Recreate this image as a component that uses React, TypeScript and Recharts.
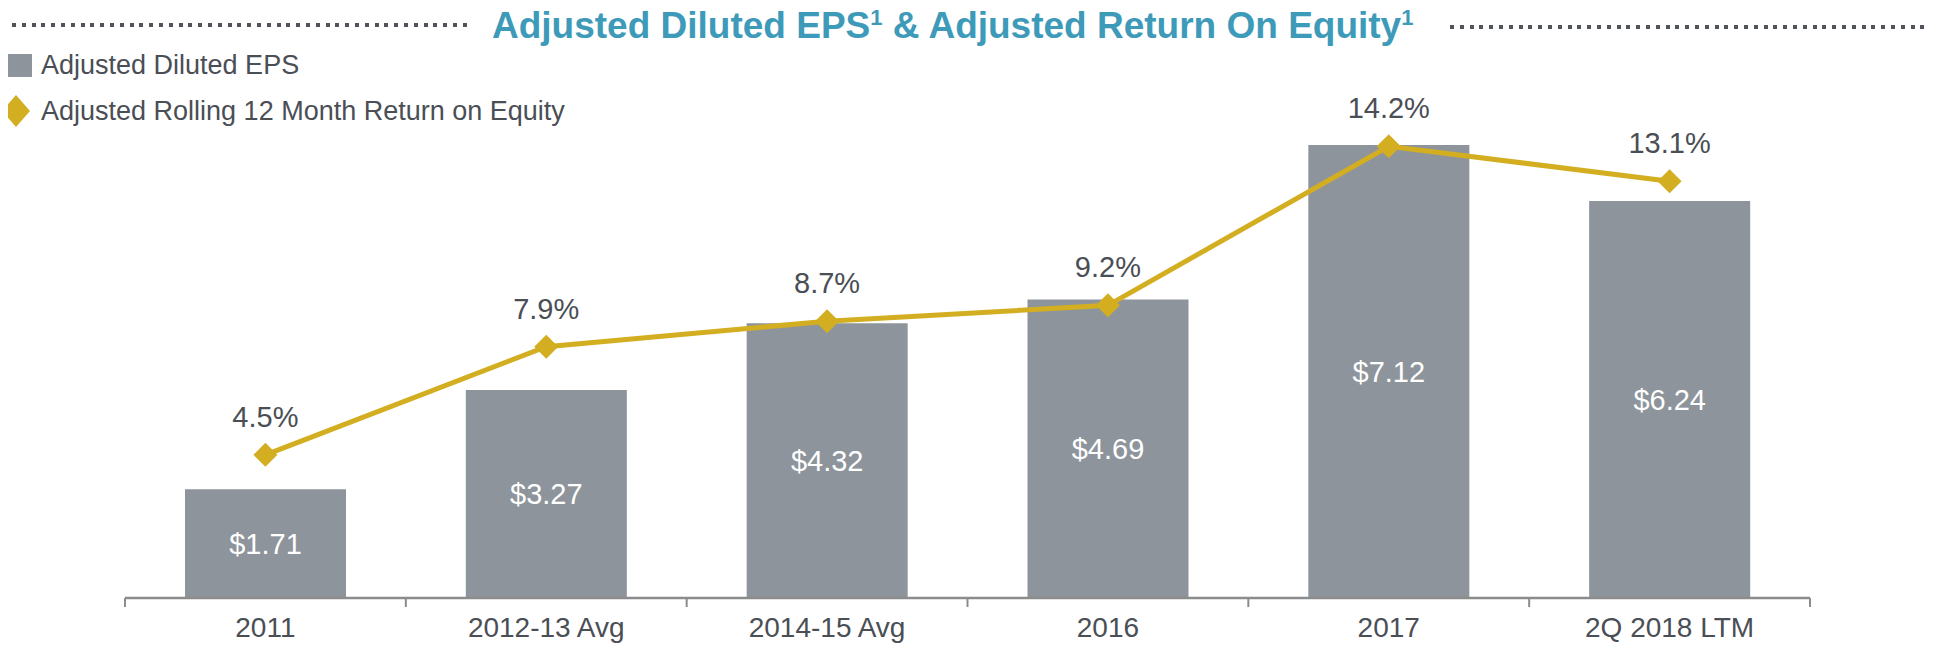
import React from "react";
import { ComposedChart, Bar, Line, XAxis, YAxis, LabelList } from "recharts";

const categories = ["2011", "2012-13 Avg", "2014-15 Avg", "2016", "2017", "2Q 2018 LTM"];
const epsValues = [1.71, 3.27, 4.32, 4.69, 7.12, 6.24];
const roeValues = [4.5, 7.9, 8.7, 9.2, 14.2, 13.1];

const data = categories.map((name, i) => ({ name, eps: epsValues[i], roe: roeValues[i] }));

const FONT = '"Liberation Sans", Arial, Helvetica, sans-serif';
const BAR = "#8e949b";
const GOLD = "#d3ae20";
const TEXT = "#4a4e55";
const TEAL = "#3d9ab9";

const dots = (w: number) => ({
  width: w,
  height: 4,
  backgroundImage: "repeating-linear-gradient(to right, #50545a 0 4px, transparent 4px 9.8px)",
});

function Diamond(props: any) {
  const { cx, cy } = props;
  if (cx == null || cy == null) return null;
  return <polygon points={`${cx},${cy - 12} ${cx + 12},${cy} ${cx},${cy + 12} ${cx - 12},${cy}`} fill={GOLD} />;
}

// labels sit under the band centre, tick marks on the band edges
function Tick(props: any) {
  const { x, y, payload, index } = props;
  const half = payload?.offset ?? 140.4;
  return (
    <g>
      <line x1={x - half} y1={y} x2={x - half} y2={y + 9} stroke="#8c8c8c" strokeWidth={2} />
      {index === categories.length - 1 && (
        <line x1={x + half} y1={y} x2={x + half} y2={y + 9} stroke="#8c8c8c" strokeWidth={2} />
      )}
      <text x={x} y={y + 39} textAnchor="middle" fill={TEXT} fontSize={28} fontFamily={FONT}>
        {payload.value}
      </text>
    </g>
  );
}

export default function App() {
  return (
    <div style={{ position: "relative", width: 1919, height: 637, fontFamily: FONT }}>
      <div style={{ position: "absolute", left: 4, top: 15, ...dots(456) }} />
      <div
        style={{
          position: "absolute", left: 484, top: -3, whiteSpace: "nowrap",
          color: TEAL, fontWeight: "bold", fontSize: 37, lineHeight: "42px",
        }}
      >
        Adjusted Diluted EPS<sup style={{ fontSize: 22, lineHeight: 0 }}>1</sup> &amp; Adjusted Return On Equity<sup style={{ fontSize: 22, lineHeight: 0 }}>1</sup>
      </div>
      <div style={{ position: "absolute", left: 1442, top: 17, ...dots(478) }} />

      {/* legend */}
      <div style={{ position: "absolute", left: 0, top: 45, fontSize: 27, color: TEXT }}>
        <div style={{ display: "flex", alignItems: "center", height: 24 }}>
          <div style={{ width: 24, height: 23, flexShrink: 0, background: BAR, marginRight: 9 }} />
          <span style={{ whiteSpace: "nowrap" }}>Adjusted Diluted EPS</span>
        </div>
        <div style={{ display: "flex", alignItems: "center", height: 40, marginTop: 14 }}>
          <svg width={33} height={40} style={{ flexShrink: 0, marginLeft: -9, marginRight: 9 }}>
            <polygon points="17,4 31,20 17,36 3,20" fill={GOLD} />
          </svg>
          <span style={{ whiteSpace: "nowrap" }}>Adjusted Rolling 12 Month Return on Equity</span>
        </div>
      </div>

      <div style={{ position: "absolute", left: 0, top: 0 }}>
        <ComposedChart width={1919} height={637} data={data} margin={{ top: 81, right: 117, left: 117, bottom: 0 }}>
          <XAxis
            dataKey="name"
            height={47}
            axisLine={{ stroke: "#8c8c8c", strokeWidth: 2.5 }}
            tickLine={false}
            tickSize={0}
            tickMargin={0}
            tick={<Tick />}
            interval={0}
          />
          <YAxis yAxisId="eps" hide domain={[0, 8]} />
          <YAxis yAxisId="roe" hide domain={[0, 16]} orientation="right" />
          <Bar yAxisId="eps" dataKey="eps" fill={BAR} barSize={161} isAnimationActive={false}>
            <LabelList
              dataKey="eps"
              position="center"
              fill="#ffffff"
              fontSize={29}
              fontFamily={FONT}
              formatter={(v: any) => `$${Number(v).toFixed(2)}`}
            />
          </Bar>
          <Line
            yAxisId="roe"
            dataKey="roe"
            stroke={GOLD}
            strokeWidth={5}
            dot={<Diamond />}
            activeDot={false}
            isAnimationActive={false}
          >
            <LabelList
              dataKey="roe"
              position="top"
              offset={28}
              fill={TEXT}
              fontSize={29}
              fontFamily={FONT}
              formatter={(v: any) => `${Number(v).toFixed(1)}%`}
            />
          </Line>
        </ComposedChart>
      </div>
    </div>
  );
}
